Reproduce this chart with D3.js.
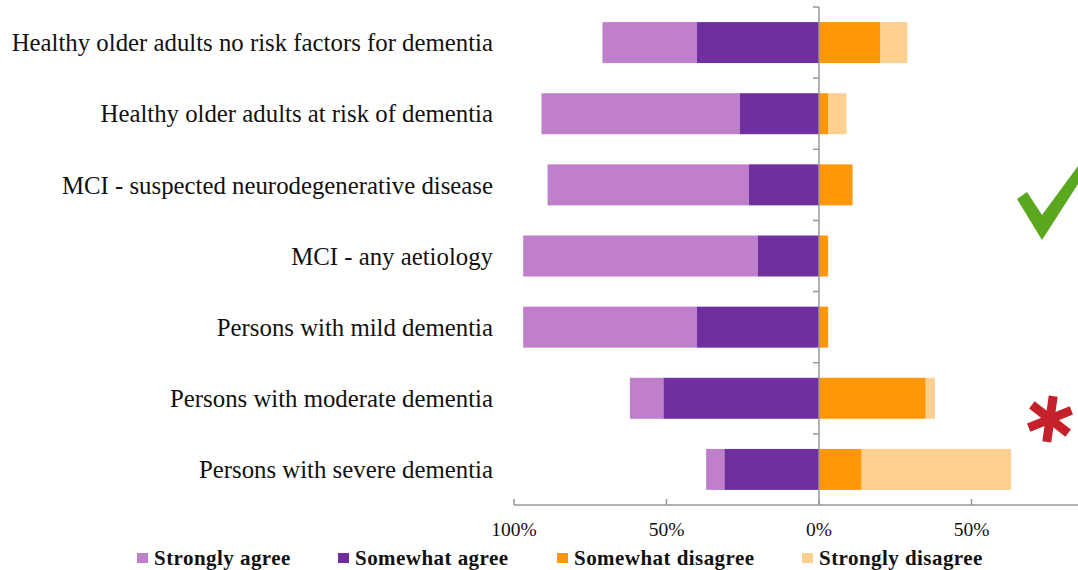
<!DOCTYPE html>
<html>
<head>
<meta charset="utf-8">
<script src="https://cdn.jsdelivr.net/npm/d3@7"></script>
<style>
  body { margin: 0; background: #fff; }
  svg { display: block; }
</style>
</head>
<body>
<script>
;(() => {
  // categories, top to bottom
  const categories = [
    'Healthy older adults no risk factors for dementia',
    'Healthy older adults at risk of dementia',
    'MCI - suspected neurodegenerative disease',
    'MCI - any aetiology',
    'Persons with mild dementia',
    'Persons with moderate dementia',
    'Persons with severe dementia'
  ]
  // percentages
  const stronglyAgree = [31, 65, 66, 77, 57, 11, 6]
  const somewhatAgree = [40, 26, 23, 20, 40, 51, 31]
  const somewhatDisagree = [20, 3, 11, 3, 3, 35, 14]
  const stronglyDisagree = [9, 6, 0, 0, 0, 3, 49]

  const seriesNames = ['Strongly agree', 'Somewhat agree', 'Somewhat disagree', 'Strongly disagree']
  const seriesColors = ['#bf7fca', '#6f2f9f', '#ff9709', '#ffd08f']
  const tickValues = [-100, -50, 0, 50, 100]
  const tickLabels = ['100%', '50%', '0%', '50%', '100%']

  const width = 1078, height = 570
  const serif = '"Liberation Serif", "Times New Roman", serif'

  const svg = d3.select('body').append('svg')
    .attr('width', width)
    .attr('height', height)

  const x = d3.scaleLinear().domain([-100, 100]).range([514, 1124])
  const y = d3.scaleBand().domain(categories).range([7, 505])
    .paddingInner(0.424).paddingOuter(0.212)

  // build segments: agree goes left from 0, disagree goes right
  const segments = []
  categories.forEach((c, i) => {
    const sa = stronglyAgree[i], wa = somewhatAgree[i]
    const wd = somewhatDisagree[i], sd = stronglyDisagree[i]
    segments.push({ c, s: 0, x0: -(sa + wa), x1: -wa })
    segments.push({ c, s: 1, x0: -wa, x1: 0 })
    segments.push({ c, s: 2, x0: 0, x1: wd })
    segments.push({ c, s: 3, x0: wd, x1: wd + sd })
  })

  svg.selectAll('.seg')
    .data(segments.filter(d => d.x1 > d.x0))
    .enter()
    .append('rect')
    .attr('class', 'seg')
    .attr('x', d => x(d.x0))
    .attr('width', d => x(d.x1) - x(d.x0))
    .attr('y', d => y(d.c))
    .attr('height', y.bandwidth())
    .attr('fill', d => seriesColors[d.s])

  // vertical axis at zero
  const axisColor = '#999'
  svg.append('line')
    .attr('x1', x(0)).attr('x2', x(0))
    .attr('y1', 7).attr('y2', 505)
    .attr('stroke', axisColor).attr('stroke-width', 1.5)

  const bounds = categories.map(c => y(c) - y.step() * y.paddingInner() / 2)
  bounds[0] = 7
  svg.selectAll('.ytick')
    .data(bounds)
    .enter()
    .append('line')
    .attr('x1', x(0) - 6).attr('x2', x(0))
    .attr('y1', d => d).attr('y2', d => d)
    .attr('stroke', axisColor).attr('stroke-width', 1.5)

  // category labels
  svg.selectAll('.cat')
    .data(categories)
    .enter()
    .append('text')
    .attr('x', 493)
    .attr('y', d => y(d) + y.bandwidth() / 2)
    .attr('dy', '0.35em')
    .attr('text-anchor', 'end')
    .style('font-family', serif)
    .style('font-size', '24.8px')
    .attr('fill', '#111')
    .text(d => d)

  // horizontal axis
  svg.append('line')
    .attr('x1', x(-100)).attr('x2', width)
    .attr('y1', 505).attr('y2', 505)
    .attr('stroke', axisColor).attr('stroke-width', 1.5)

  svg.selectAll('.xtick')
    .data(tickValues)
    .enter()
    .append('line')
    .attr('x1', d => x(d)).attr('x2', d => x(d))
    .attr('y1', 499).attr('y2', 505)
    .attr('stroke', axisColor).attr('stroke-width', 1.5)

  // the 100% label on the right falls outside the picture
  svg.selectAll('.xlab')
    .data(tickValues.filter(d => x(d) < width - 30))
    .enter()
    .append('text')
    .attr('x', d => x(d))
    .attr('y', 536)
    .attr('text-anchor', 'middle')
    .style('font-family', serif)
    .style('font-size', '19.5px')
    .attr('fill', '#111')
    .text(d => tickLabels[tickValues.indexOf(d)])

  // legend
  const legendX = [137, 338, 557, 802]
  const legend = svg.selectAll('.leg')
    .data(seriesNames)
    .enter()
    .append('g')
    .attr('transform', (d, i) => `translate(${legendX[i]},0)`)
  legend.append('rect')
    .attr('x', 0).attr('y', 553)
    .attr('width', 11).attr('height', 10)
    .attr('fill', (d, i) => seriesColors[i])
  legend.append('text')
    .attr('x', 17)
    .attr('y', 565)
    .style('font-family', serif)
    .style('font-size', '21px')
    .style('font-weight', 'bold')
    .style('letter-spacing', '0.45px')
    .attr('fill', '#111')
    .text(d => d)

  // green check mark
  svg.append('path')
    .attr('d', 'M1017,199 L1027,192 L1042,215 L1078,166 L1078,184 L1042,240 Z')
    .attr('fill', '#5aa81e')

  // red asterisk
  const ast = svg.append('g').attr('transform', 'translate(1050,419) rotate(8)')
  ;[0, 60, 120].forEach(a => {
    ast.append('line')
      .attr('x1', 0).attr('y1', -23)
      .attr('x2', 0).attr('y2', 23)
      .attr('transform', `rotate(${a})`)
      .attr('stroke', '#c4212b')
      .attr('stroke-width', 9)
  })
})()
</script>
</body>
</html>
